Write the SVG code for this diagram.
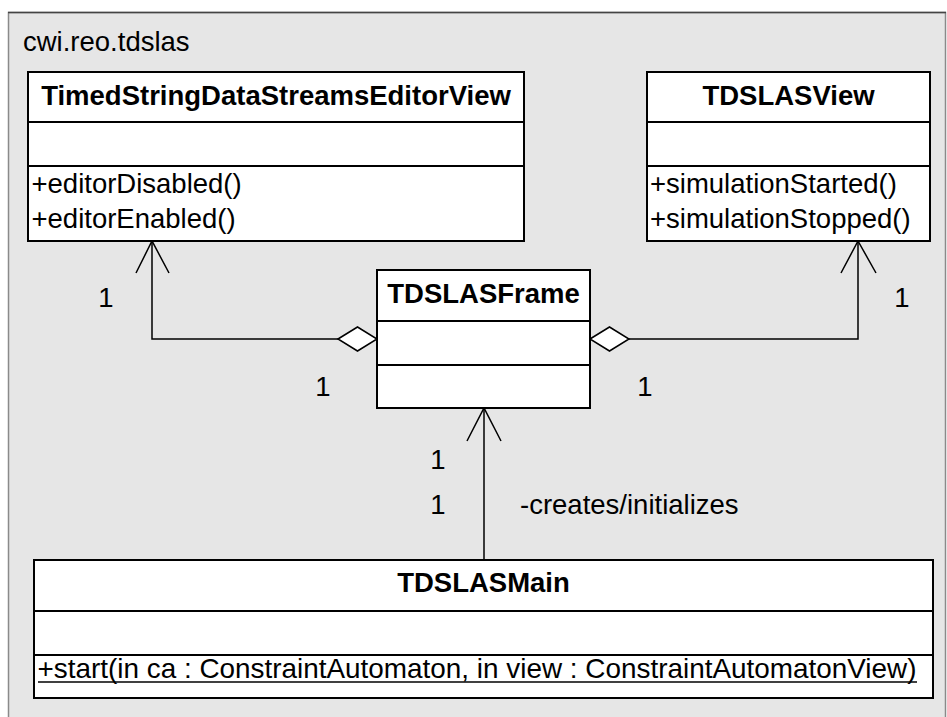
<svg xmlns="http://www.w3.org/2000/svg" width="947" height="717" viewBox="0 0 947 717">
<style>
text{font-family:"Liberation Sans",Arial,sans-serif;font-size:27.5px;fill:#000}
.t{font-weight:bold;text-anchor:middle}
.m{text-anchor:middle}
.box{fill:#fff;stroke:#000;stroke-width:2}
.sep{stroke:#000;stroke-width:2}
.ln{fill:none;stroke:#000;stroke-width:1.5}
.dia{fill:#fff;stroke:#000;stroke-width:1.5}
</style>
<rect width="947" height="717" fill="#fff"/>
<g id="package">
<rect x="8.5" y="12.5" width="937" height="720" fill="#e6e6e6" stroke="#8a8a8a" stroke-width="1.5"/>
<line x1="8" y1="12.5" x2="946" y2="12.5" stroke="#444" stroke-width="1.5"/>
<text x="23" y="51">cwi.reo.tdslas</text>
</g>
<g id="connectors">
<polyline class="ln" points="338,339 152,339 152,241"/>
<polyline class="ln" points="136,273 152,241 169,273"/>
<polygon class="dia" points="338,339 357.5,327 377,339 357.5,351"/>
<polyline class="ln" points="629,339 858,339 858,241"/>
<polyline class="ln" points="841,273 858,241 876,273"/>
<polygon class="dia" points="590,339 609.5,327 629,339 609.5,351"/>
<line class="ln" x1="484" y1="560" x2="484" y2="408"/>
<polyline class="ln" points="467,441 484,408 501,441"/>
<text class="m" x="106" y="307">1</text>
<text class="m" x="323" y="396">1</text>
<text class="m" x="902" y="307">1</text>
<text class="m" x="645" y="396">1</text>
<text class="m" x="438" y="469">1</text>
<text class="m" x="438" y="514">1</text>
<text x="520" y="514">-creates/initializes</text>
</g>
<g id="TimedStringDataStreamsEditorView">
<rect class="box" x="28" y="72" width="496" height="169"/>
<line class="sep" x1="28" y1="122" x2="524" y2="122"/>
<line class="sep" x1="28" y1="166" x2="524" y2="166"/>
<text class="t" x="276" y="105">TimedStringDataStreamsEditorView</text>
<text x="31.5" y="193">+editorDisabled()</text>
<text x="31.5" y="228">+editorEnabled()</text>
</g>
<g id="TDSLASView">
<rect class="box" x="647" y="72" width="283" height="169"/>
<line class="sep" x1="647" y1="122" x2="930" y2="122"/>
<line class="sep" x1="647" y1="166" x2="930" y2="166"/>
<text class="t" x="788.5" y="105">TDSLASView</text>
<text x="650" y="193">+simulationStarted()</text>
<text x="650" y="228">+simulationStopped()</text>
</g>
<g id="TDSLASFrame">
<rect class="box" x="377" y="270" width="213" height="138"/>
<line class="sep" x1="377" y1="321" x2="590" y2="321"/>
<line class="sep" x1="377" y1="365" x2="590" y2="365"/>
<text class="t" x="483.5" y="303">TDSLASFrame</text>
</g>
<g id="TDSLASMain">
<rect class="box" x="34" y="560" width="899" height="138"/>
<line class="sep" x1="34" y1="611" x2="933" y2="611"/>
<line class="sep" x1="34" y1="655" x2="933" y2="655"/>
<text class="t" x="483.5" y="592">TDSLASMain</text>
<text x="37.5" y="678" textLength="879" lengthAdjust="spacingAndGlyphs">+start(in ca : ConstraintAutomaton, in view : ConstraintAutomatonView)</text>
<line x1="38" y1="682" x2="917" y2="682" stroke="#000" stroke-width="1.5"/>
</g>
</svg>
